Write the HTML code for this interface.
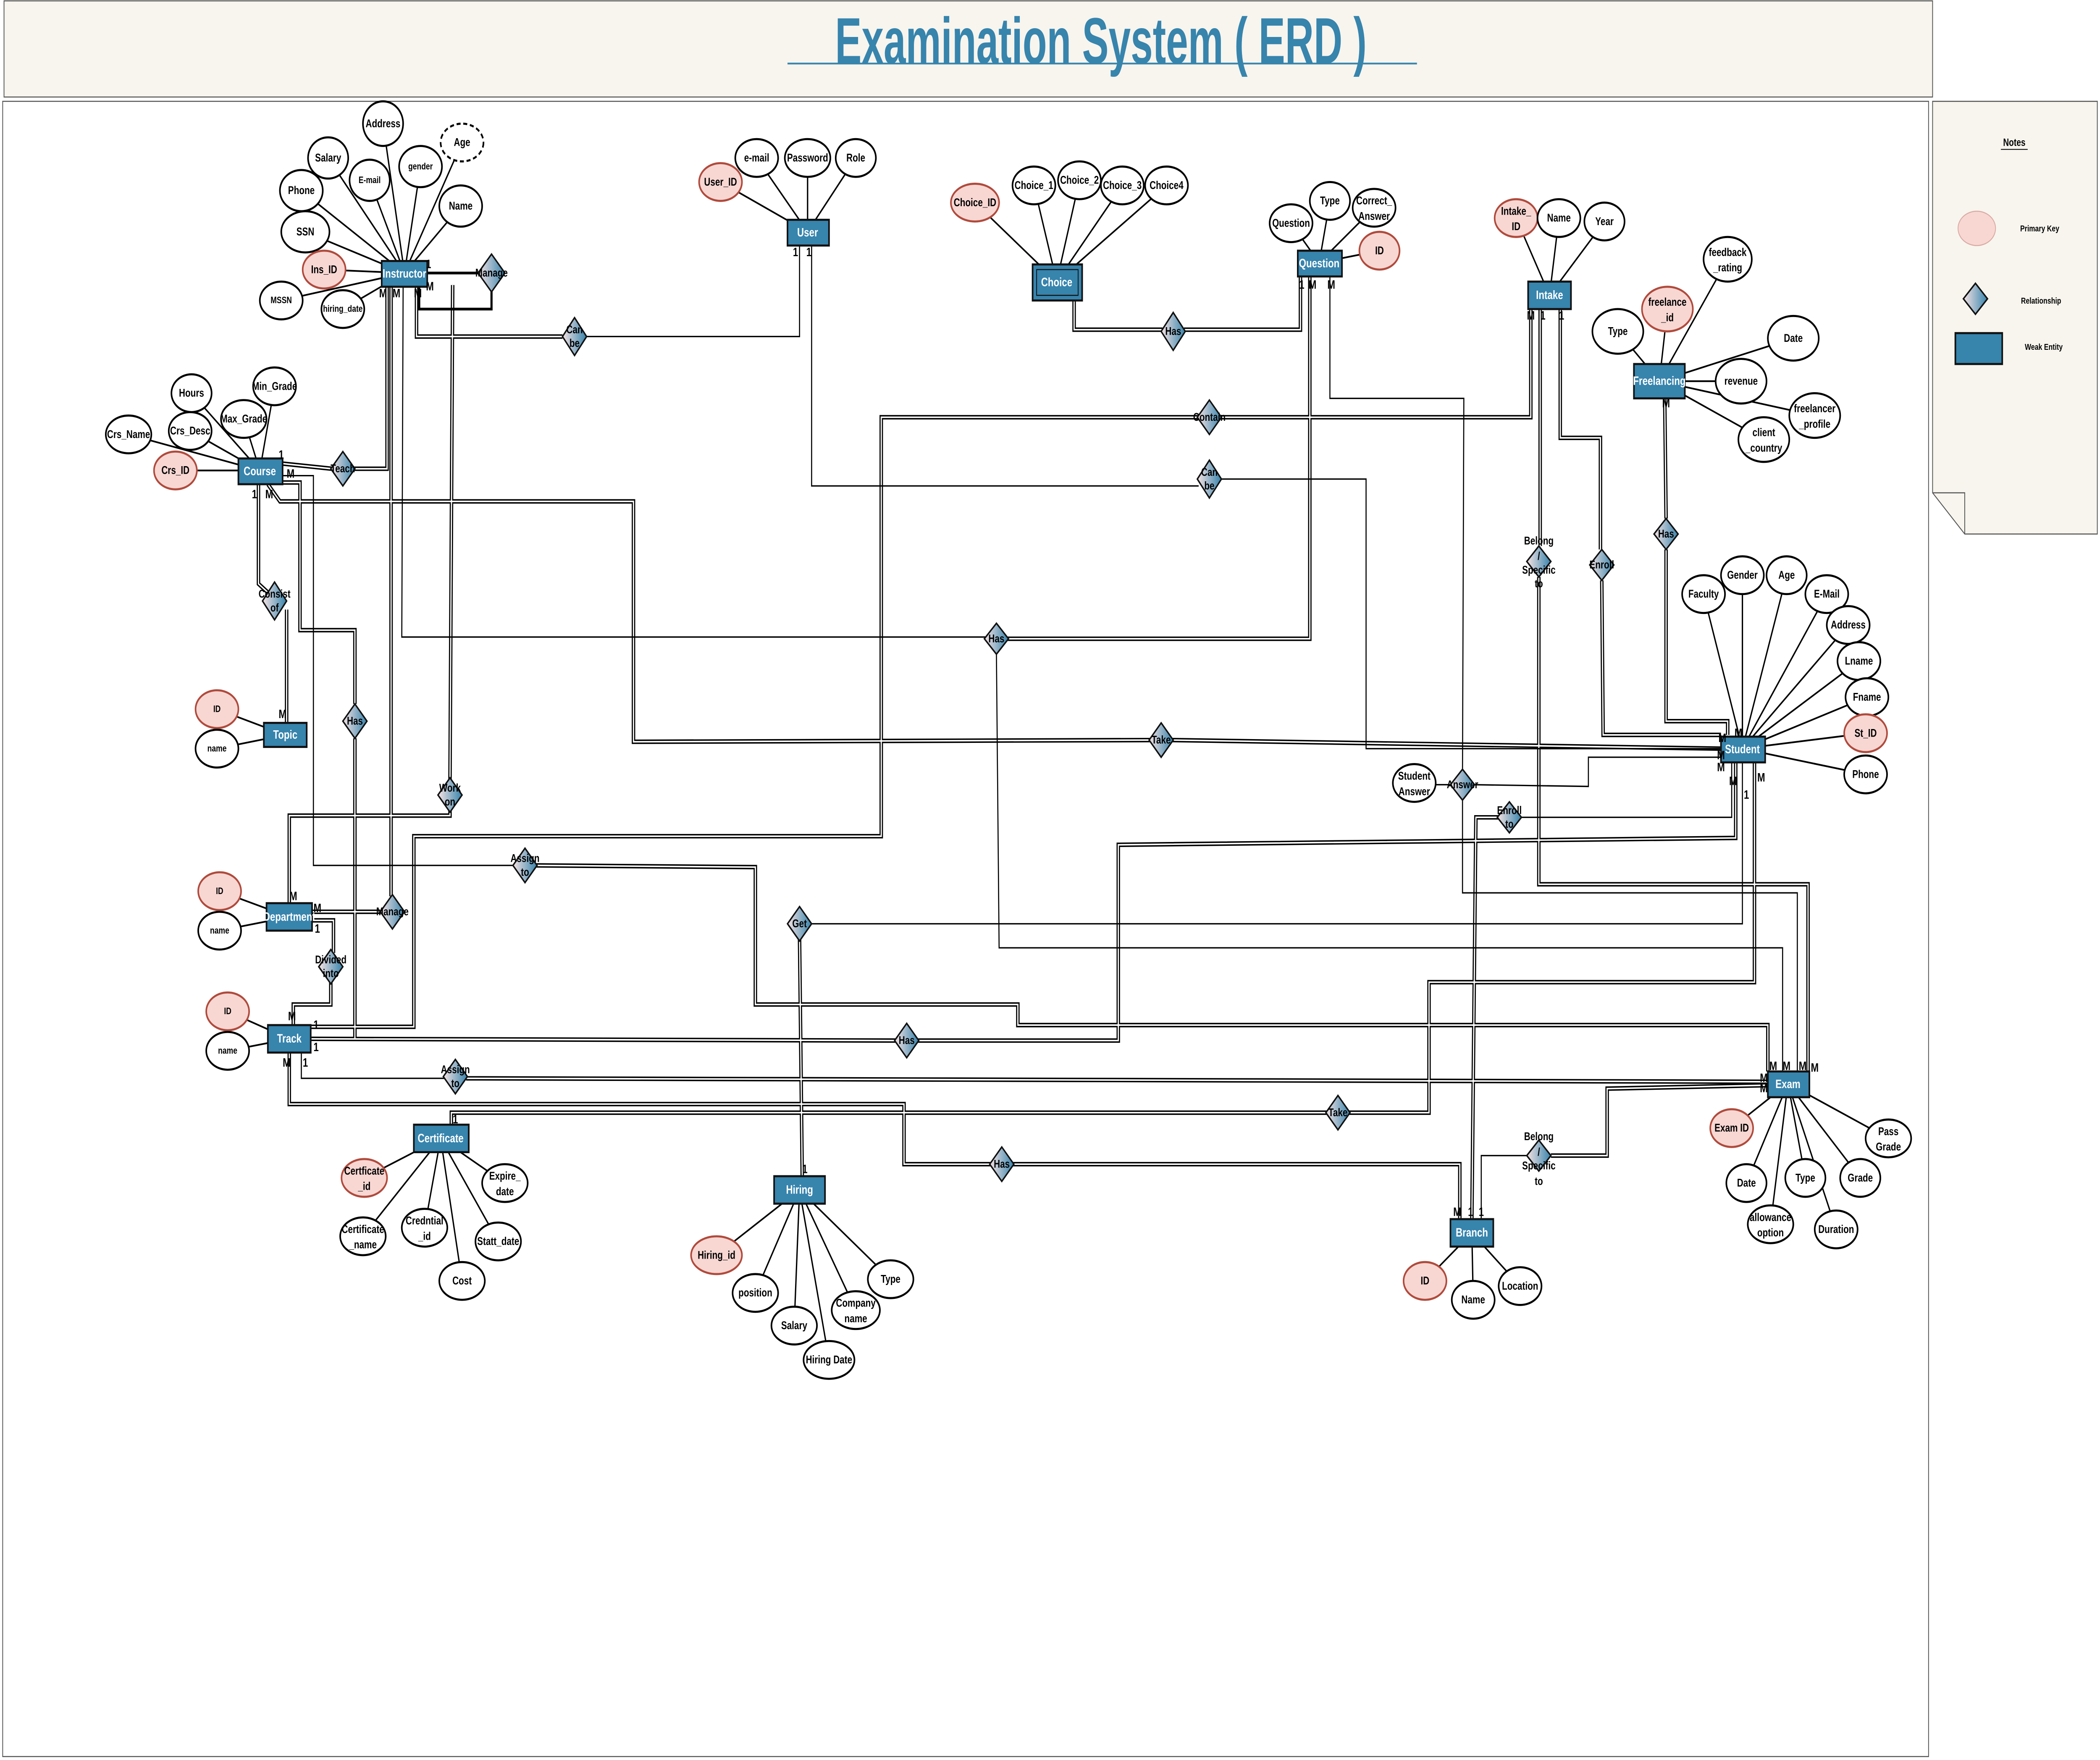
<!DOCTYPE html>
<html><head><meta charset="utf-8"><style>
html,body{margin:0;padding:0;background:#fff;overflow:hidden;width:100%;height:100%}
#wrap{position:fixed;left:0;top:0;width:100vw;height:100vh;overflow:hidden}
#wrap svg{position:absolute;left:0;top:0;width:100%;height:100%;display:block}
text{font-family:"Liberation Sans",sans-serif;font-weight:bold;text-anchor:middle;dominant-baseline:central}
.at{fill:#fff;stroke:#000;stroke-width:1.2}
.pk{fill:#f8d7d3;stroke:#b04a3c;stroke-width:1.2}
.en{fill:#3784ad;stroke:#111;stroke-width:1.2}
.et{fill:#fff;font-size:7px}
.t{font-size:6.5px;fill:#000}
.dm{fill:url(#g);stroke:#111;stroke-width:1}
.s{fill:none;stroke:#000;stroke-width:0.8}
.c{font-size:7px;fill:#000}
</style></head><body>
<div id="wrap">
<svg viewBox="0 0 1568 1025" preserveAspectRatio="none" xmlns="http://www.w3.org/2000/svg" xmlns:xlink="http://www.w3.org/1999/xlink">
<defs>
<linearGradient id="g" x1="0" y1="0" x2="1" y2="0"><stop offset="0" stop-color="#f6e3e3"/><stop offset="1" stop-color="#3784ad"/></linearGradient>
<g id="dbl" fill="none">
<path d="M311,167 V196 H420"/>
<path d="M802,173 V192 H868 M884,192 H971 V161"/>
<path d="M1143,180 V243 H911 M895,243 H658 V487 H309 V598 H232"/>
<path d="M338,166 L336,455 M336,472 V475 H216 V526"/>
<path d="M292,167 V522 M284,531 H233"/>
<path d="M752,372 H978 V161"/>
<path d="M211,270 L248,273 M264,273 H289 V167"/>
<path d="M193,282 V340 L200,345 M214,355 V421"/>
<path d="M400,504 L564,505 V585 H760 V597 H1320 V624"/>
<path d="M211,281 H224 V367 H265 V410 M265,430 V605"/>
<path d="M232,605 L669,606 M685,606 H835 V492 L1296,488 V444"/>
<path d="M200,282 L209,292 H473 V432 L859,431 M875,431 L1285,436"/>
<path d="M233,536 H249 V555 M247,572 V585 H219 V597"/>
<path d="M216,613 V643 H675 V678 H740 M756,678 H1090 V710"/>
<path d="M348,628 L1320,630"/>
<path d="M337,655 V648 H991 M1007,648 H1067 V572 H1310 V444"/>
<path d="M597,547 L599,685"/>
<path d="M1119,476 H1102 L1099,710"/>
<path d="M1150,180 V318 M1149,336 V515 H1350 V624"/>
<path d="M1165,180 V255 H1195 V320 M1196,338 L1197,428 H1285"/>
<path d="M1243,232 L1244,302 M1244,320 V420 H1290 V428"/>
<path d="M1158,673 H1200 V634 L1320,632"/>
</g>
</defs>
<rect x="3" y="0.5" width="1440" height="56" fill="#f7f5ee" stroke="#555" stroke-width="0.6"/>
<text x="822" y="24" style="font-size:38px;fill:#3784ad;font-weight:bold" transform="translate(822,0) scale(0.78,1) translate(-822,0)">Examination System  ( ERD )</text>
<line x1="588" y1="37" x2="1058" y2="37" stroke="#3784ad" stroke-width="1"/>
<rect x="2" y="59" width="1438" height="964" fill="#fff" stroke="#555" stroke-width="0.6"/>
<polygon points="1443,59 1566,59 1566,311 1467,311 1443,287" fill="#f7f5ee" stroke="#555" stroke-width="0.6"/>
<polyline points="1443,287 1467,287 1467,311" fill="none" stroke="#555" stroke-width="0.6"/>
<text x="1504" y="83" class="t" style="font-size:6px">Notes</text><line x1="1494" y1="87" x2="1514" y2="87" stroke="#000" stroke-width="0.5"/>
<ellipse cx="1476" cy="133" rx="14" ry="10" fill="#f8d7d3" stroke="#d9a9a3" stroke-width="0.6"/>
<text x="1523" y="133" class="t" style="font-size:5px">Primary Key</text>
<polygon points="1475,165 1484,174 1475,183 1466,174" class="dm"/>
<text x="1524" y="175" class="t" style="font-size:5px">Relationship</text>
<rect x="1460" y="194" width="35" height="18" class="en" stroke-width="2"/>
<text x="1526" y="202" class="t" style="font-size:5px">Weak Entity</text>

<use xlink:href="#dbl" stroke="#000" stroke-width="2.6"/>
<use xlink:href="#dbl" stroke="#fff" stroke-width="0.9"/>
<g class="s">
<path d="M319,159 H358" stroke-width="1.6"/>
<path d="M367,168 V180 H313 V167" stroke-width="1.6"/>
<path d="M438,196 H597 V143"/>
<path d="M606,143 V283 H895 M911,279 H1020 V436 H1285"/>
<path d="M301,167 L300,371 H736"/>
<path d="M744,381 L746,552 H1331 V624"/>
<path d="M211,277 H234 V504 H384"/>
<path d="M225,613 V628 H332"/>
<path d="M605,538 H1301 V444"/>
<path d="M1072,457 H1084 M1092,449 L1093,232 H993 V161 M1092,465 V520 H1342 V624 M1100,457 L1186,458 V441 H1285"/>
<path d="M1135,476 H1293 V444"/>
<path d="M1140,673 H1106 V710"/>
</g>

<g stroke="#000" stroke-width="1">
<path d="M286,72 L302,159 M345,83 L302,159 M245,92 L302,159 M314,97 L302,159 M276,105 L302,159 M225,111 L302,159 M344,120 L302,159 M228,135 L302,159 M242,157 L302,159 M210,175 L302,159 M256,180 L302,159"/>
<path d="M538,106 L603,135 M565,92 L603,135 M603,92 L603,135 M639,92 L603,135"/>
<path d="M728,118 L789,164 M772,108 L789,164 M806,105 L789,164 M838,108 L789,164 M871,108 L789,164"/>
<path d="M964,130 L985,153 M993,117 L985,153 M1026,121 L985,153 M1030,146 L985,153"/>
<path d="M1132,127 L1157,172 M1164,127 L1157,172 M1198,129 L1157,172"/>
<path d="M1245,180 L1239,222 M1290,151 L1239,222 M1208,193 L1239,222 M1339,197 L1239,222 M1300,222 L1239,222 M1355,242 L1239,222 M1317,256 L1239,222"/>
<path d="M143,229 L194,274 M205,225 L194,274 M142,251 L194,274 M182,244 L194,274 M96,253 L194,274 M131,274 L194,274"/>
<path d="M162,413 L213,428 M162,436 L213,428"/>
<path d="M1272,346 L1301,436 M1301,335 L1301,436 M1334,335 L1301,436 M1364,346 L1301,436 M1380,364 L1301,436 M1388,385 L1301,436 M1394,406 L1301,436 M1393,427 L1301,436 M1393,451 L1301,436"/>
<path d="M164,519 L216,534 M164,542 L216,534 M170,589 L216,605 M170,612 L216,605"/>
<path d="M1293,657 L1335,631 M1410,663 L1335,631 M1304,689 L1335,631 M1348,686 L1335,631 M1389,686 L1335,631 M1322,713 L1335,631 M1371,716 L1335,631"/>
<path d="M272,686 L329,663 M377,689 L329,663 M317,715 L329,663 M271,720 L329,663 M372,723 L329,663 M345,746 L329,663"/>
<path d="M535,731 L597,693 M564,753 L597,693 M665,745 L597,693 M639,763 L597,693 M593,772 L597,693 M619,792 L597,693"/>
<path d="M1064,746 L1099,718 M1100,757 L1099,718 M1135,749 L1099,718"/>
</g>

<g>
<ellipse cx="286" cy="72" rx="15" ry="13" class="at"/><text x="286" y="72" class="t">Address</text>
<ellipse cx="345" cy="83" rx="16" ry="11" class="at" stroke-dasharray="3,2"/><text x="345" y="83" class="t">Age</text>
<ellipse cx="245" cy="92" rx="15" ry="12" class="at"/><text x="245" y="92" class="t">Salary</text>
<ellipse cx="314" cy="97" rx="16" ry="12" class="at"/><text x="314" y="97" class="t" style="font-size:5.5px">gender</text>
<ellipse cx="276" cy="105" rx="15" ry="12" class="at"/><text x="276" y="105" class="t" style="font-size:5.5px">E-mail</text>
<ellipse cx="225" cy="111" rx="16" ry="12" class="at"/><text x="225" y="111" class="t">Phone</text>
<ellipse cx="344" cy="120" rx="16" ry="12" class="at"/><text x="344" y="120" class="t">Name</text>
<ellipse cx="228" cy="135" rx="18" ry="12" class="at"/><text x="228" y="135" class="t">SSN</text>
<ellipse cx="242" cy="157" rx="16" ry="11" class="pk"/><text x="242" y="157" class="t">Ins_ID</text>
<ellipse cx="210" cy="175" rx="16" ry="11" class="at" stroke-width="0.8"/><text x="210" y="175" class="t" style="font-size:5.5px">MSSN</text>
<ellipse cx="256" cy="180" rx="16" ry="11" class="at" stroke-width="0.8"/><text x="256" y="180" class="t" style="font-size:5.5px">hiring_date</text>

<ellipse cx="538" cy="106" rx="16" ry="11" class="pk"/><text x="538" y="106" class="t">User_ID</text>
<ellipse cx="565" cy="92" rx="16" ry="11" class="at"/><text x="565" y="92" class="t">e-mail</text>
<ellipse cx="603" cy="92" rx="17" ry="11" class="at"/><text x="603" y="92" class="t">Password</text>
<ellipse cx="639" cy="92" rx="15" ry="11" class="at"/><text x="639" y="92" class="t">Role</text>

<ellipse cx="728" cy="118" rx="18" ry="11" class="pk"/><text x="728" y="118" class="t">Choice_ID</text>
<ellipse cx="772" cy="108" rx="16" ry="11" class="at"/><text x="772" y="108" class="t">Choice_1</text>
<ellipse cx="806" cy="105" rx="16" ry="11" class="at"/><text x="806" y="105" class="t">Choice_2</text>
<ellipse cx="838" cy="108" rx="16" ry="11" class="at"/><text x="838" y="108" class="t">Choice_3</text>
<ellipse cx="871" cy="108" rx="16" ry="11" class="at"/><text x="871" y="108" class="t">Choice4</text>

<ellipse cx="964" cy="130" rx="16" ry="11" class="at"/><text x="964" y="130" class="t">Question</text>
<ellipse cx="993" cy="117" rx="15" ry="11" class="at"/><text x="993" y="117" class="t">Type</text>
<ellipse cx="1026" cy="121" rx="16" ry="11" class="at"/><text x="1026" y="117" class="t">Correct_</text><text x="1026" y="126" class="t">Answer</text>
<ellipse cx="1030" cy="146" rx="15" ry="11" class="pk"/><text x="1030" y="146" class="t">ID</text>

<ellipse cx="1132" cy="127" rx="16" ry="11" class="pk"/><text x="1132" y="123" class="t">Intake_</text><text x="1132" y="132" class="t">ID</text>
<ellipse cx="1164" cy="127" rx="16" ry="11" class="at"/><text x="1164" y="127" class="t">Name</text>
<ellipse cx="1198" cy="129" rx="15" ry="11" class="at"/><text x="1198" y="129" class="t">Year</text>

<ellipse cx="1245" cy="180" rx="19" ry="13" class="pk"/><text x="1245" y="176" class="t">freelance</text><text x="1245" y="185" class="t">_id</text>
<ellipse cx="1290" cy="151" rx="18" ry="13" class="at"/><text x="1290" y="147" class="t">feedback</text><text x="1290" y="156" class="t">_rating</text>
<ellipse cx="1208" cy="193" rx="19" ry="13" class="at"/><text x="1208" y="193" class="t">Type</text>
<ellipse cx="1339" cy="197" rx="19" ry="13" class="at"/><text x="1339" y="197" class="t">Date</text>
<ellipse cx="1300" cy="222" rx="19" ry="13" class="at"/><text x="1300" y="222" class="t">revenue</text>
<ellipse cx="1355" cy="242" rx="19" ry="13" class="at"/><text x="1355" y="238" class="t">freelancer</text><text x="1355" y="247" class="t">_profile</text>
<ellipse cx="1317" cy="256" rx="19" ry="13" class="at"/><text x="1317" y="252" class="t">client</text><text x="1317" y="261" class="t">_country</text>

<ellipse cx="143" cy="229" rx="15" ry="11" class="at"/><text x="143" y="229" class="t">Hours</text>
<ellipse cx="205" cy="225" rx="16" ry="11" class="at"/><text x="205" y="225" class="t">Min_Grade</text>
<ellipse cx="142" cy="251" rx="16" ry="11" class="at"/><text x="142" y="251" class="t">Crs_Desc</text>
<ellipse cx="182" cy="244" rx="17" ry="11" class="at"/><text x="182" y="244" class="t">Max_Grade</text>
<ellipse cx="96" cy="253" rx="17" ry="11" class="at"/><text x="96" y="253" class="t">Crs_Name</text>
<ellipse cx="131" cy="274" rx="16" ry="11" class="pk"/><text x="131" y="274" class="t">Crs_ID</text>

<ellipse cx="162" cy="413" rx="16" ry="11" class="pk"/><text x="162" y="413" class="t" style="font-size:5.5px">ID</text>
<ellipse cx="162" cy="436" rx="16" ry="11" class="at"/><text x="162" y="436" class="t" style="font-size:5.5px">name</text>

<ellipse cx="1272" cy="346" rx="16" ry="11" class="at"/><text x="1272" y="346" class="t">Faculty</text>
<ellipse cx="1301" cy="335" rx="16" ry="11" class="at"/><text x="1301" y="335" class="t">Gender</text>
<ellipse cx="1334" cy="335" rx="15" ry="11" class="at"/><text x="1334" y="335" class="t">Age</text>
<ellipse cx="1364" cy="346" rx="16" ry="11" class="at"/><text x="1364" y="346" class="t">E-Mail</text>
<ellipse cx="1380" cy="364" rx="16" ry="11" class="at"/><text x="1380" y="364" class="t">Address</text>
<ellipse cx="1388" cy="385" rx="16" ry="11" class="at"/><text x="1388" y="385" class="t">Lname</text>
<ellipse cx="1394" cy="406" rx="16" ry="11" class="at"/><text x="1394" y="406" class="t">Fname</text>
<ellipse cx="1393" cy="427" rx="16" ry="11" class="pk"/><text x="1393" y="427" class="t">St_ID</text>
<ellipse cx="1393" cy="451" rx="16" ry="11" class="at" stroke-width="2.4"/><text x="1393" y="451" class="t">Phone</text>
<ellipse cx="1056" cy="456" rx="16" ry="11" class="at"/><text x="1056" y="452" class="t">Student</text><text x="1056" y="461" class="t">Answer</text>

<ellipse cx="164" cy="519" rx="16" ry="11" class="pk"/><text x="164" y="519" class="t" style="font-size:5.5px">ID</text>
<ellipse cx="164" cy="542" rx="16" ry="11" class="at"/><text x="164" y="542" class="t" style="font-size:5.5px">name</text>
<ellipse cx="170" cy="589" rx="16" ry="11" class="pk"/><text x="170" y="589" class="t" style="font-size:5.5px">ID</text>
<ellipse cx="170" cy="612" rx="16" ry="11" class="at"/><text x="170" y="612" class="t" style="font-size:5.5px">name</text>

<ellipse cx="1293" cy="657" rx="16" ry="11" class="pk"/><text x="1293" y="657" class="t">Exam ID</text>
<ellipse cx="1410" cy="663" rx="17" ry="11" class="at"/><text x="1410" y="659" class="t">Pass</text><text x="1410" y="668" class="t">Grade</text>
<ellipse cx="1304" cy="689" rx="15" ry="11" class="at"/><text x="1304" y="689" class="t">Date</text>
<ellipse cx="1348" cy="686" rx="15" ry="11" class="at"/><text x="1348" y="686" class="t">Type</text>
<ellipse cx="1389" cy="686" rx="15" ry="11" class="at"/><text x="1389" y="686" class="t">Grade</text>
<ellipse cx="1322" cy="713" rx="17" ry="11" class="at"/><text x="1322" y="709" class="t">allowance</text><text x="1322" y="718" class="t">option</text>
<ellipse cx="1371" cy="716" rx="16" ry="11" class="at"/><text x="1371" y="716" class="t">Duration</text>

<ellipse cx="272" cy="686" rx="17" ry="11" class="pk"/><text x="272" y="682" class="t">Certficate</text><text x="272" y="691" class="t">_id</text>
<ellipse cx="377" cy="689" rx="17" ry="11" class="at"/><text x="377" y="685" class="t">Expire_</text><text x="377" y="694" class="t">date</text>
<ellipse cx="317" cy="715" rx="17" ry="11" class="at"/><text x="317" y="711" class="t">Credntial</text><text x="317" y="720" class="t">_id</text>
<ellipse cx="271" cy="720" rx="17" ry="11" class="at"/><text x="271" y="716" class="t">Certificate</text><text x="271" y="725" class="t">_name</text>
<ellipse cx="372" cy="723" rx="17" ry="11" class="at"/><text x="372" y="723" class="t">Statt_date</text>
<ellipse cx="345" cy="746" rx="17" ry="11" class="at"/><text x="345" y="746" class="t">Cost</text>

<ellipse cx="535" cy="731" rx="19" ry="11" class="pk"/><text x="535" y="731" class="t">Hiring_id</text>
<ellipse cx="564" cy="753" rx="17" ry="11" class="at"/><text x="564" y="753" class="t">position</text>
<ellipse cx="665" cy="745" rx="17" ry="11" class="at"/><text x="665" y="745" class="t">Type</text>
<ellipse cx="639" cy="763" rx="18" ry="11" class="at"/><text x="639" y="759" class="t">Company</text><text x="639" y="768" class="t">name</text>
<ellipse cx="593" cy="772" rx="17" ry="11" class="at"/><text x="593" y="772" class="t">Salary</text>
<ellipse cx="619" cy="792" rx="19" ry="11" class="at"/><text x="619" y="792" class="t">Hiring Date</text>

<ellipse cx="1064" cy="746" rx="16" ry="11" class="pk"/><text x="1064" y="746" class="t">ID</text>
<ellipse cx="1100" cy="757" rx="16" ry="11" class="at"/><text x="1100" y="757" class="t">Name</text>
<ellipse cx="1135" cy="749" rx="16" ry="11" class="at"/><text x="1135" y="749" class="t">Location</text>
</g>

<g>
<rect x="285" y="152" width="34" height="15" class="en"/><text x="302" y="159.5" class="et">Instructor</text>
<rect x="588" y="128" width="31" height="15" class="en"/><text x="603" y="135.5" class="et">User</text>
<rect x="771" y="154" width="37" height="21" class="en" stroke-width="2.4"/><rect x="774" y="157" width="31" height="15" fill="none" stroke="#111" stroke-width="0.6"/><text x="789" y="164.5" class="et">Choice</text>
<rect x="969" y="146" width="33" height="15" class="en"/><text x="985" y="153.5" class="et">Question</text>
<rect x="1141" y="164" width="32" height="16" class="en"/><text x="1157" y="172" class="et">Intake</text>
<rect x="1220" y="212" width="38" height="20" class="en"/><text x="1239" y="222" class="et">Freelancing</text>
<rect x="178" y="267" width="33" height="15" class="en"/><text x="194" y="274.5" class="et">Course</text>
<rect x="197" y="421" width="32" height="14" class="en"/><text x="213" y="428" class="et">Topic</text>
<rect x="1285" y="429" width="33" height="15" class="en"/><text x="1301" y="436.5" class="et">Student</text>
<rect x="199" y="526" width="34" height="16" class="en" stroke="#1a6fb0"/><text x="216" y="534" class="et">Department</text>
<rect x="200" y="597" width="32" height="16" class="en" stroke="#1a6fb0"/><text x="216" y="605" class="et">Track</text>
<rect x="1320" y="624" width="31" height="15" class="en"/><text x="1335" y="631.5" class="et">Exam</text>
<rect x="309" y="655" width="41" height="16" class="en" stroke="#3784ad"/><text x="329" y="663" class="et">Certificate</text>
<rect x="578" y="685" width="38" height="16" class="en" stroke-width="1.8"/><text x="597" y="693" class="et">Hiring</text>
<rect x="1083" y="710" width="32" height="16" class="en"/><text x="1099" y="718" class="et">Branch</text>
</g>

<g>
<polygon points="367,148 377,159 367,170 357,159" class="dm"/><text x="367" y="159" class="t">Manage</text>
<polygon points="429,185 438,196 429,207 420,196" class="dm"/><text x="429" y="192" class="t">Can</text><text x="429" y="200" class="t">be</text>
<polygon points="876,182 885,193 876,204 867,193" class="dm"/><text x="876" y="193" class="t">Has</text>
<polygon points="903,233 912,243 903,253 894,243" class="dm"/><text x="903" y="243" class="t">Contain</text>
<polygon points="903,268 912,279 903,290 894,279" class="dm"/><text x="903" y="275" class="t">Can</text><text x="903" y="283" class="t">be</text>
<polygon points="256,263 265,273 256,283 247,273" class="dm"/><text x="256" y="273" class="t">Teach</text>
<polygon points="205,339 214,350 205,361 196,350" class="dm"/><text x="205" y="346" class="t">Consist</text><text x="205" y="354" class="t">of</text>
<polygon points="265,410 274,420 265,430 256,420" class="dm"/><text x="265" y="420" class="t">Has</text>
<polygon points="744,363 753,372 744,381 735,372" class="dm"/><text x="744" y="372" class="t">Has</text>
<polygon points="867,421 876,431 867,441 858,431" class="dm"/><text x="867" y="431" class="t">Take</text>
<polygon points="336,453 345,463 336,473 327,463" class="dm"/><text x="336" y="459" class="t">Work</text><text x="336" y="467" class="t">on</text>
<polygon points="392,494 401,504 392,514 383,504" class="dm"/><text x="392" y="500" class="t">Assign</text><text x="392" y="508" class="t">to</text>
<polygon points="293,521 302,531 293,541 284,531" class="dm"/><text x="293" y="531" class="t">Manage</text>
<polygon points="247,553 256,563 247,573 238,563" class="dm"/><text x="247" y="559" class="t">Divided</text><text x="247" y="567" class="t">into</text>
<polygon points="597,528 606,538 597,548 588,538" class="dm"/><text x="597" y="538" class="t">Get</text>
<polygon points="677,596 686,606 677,616 668,606" class="dm"/><text x="677" y="606" class="t">Has</text>
<polygon points="340,617 349,627 340,637 331,627" class="dm"/><text x="340" y="623" class="t">Assign</text><text x="340" y="631" class="t">to</text>
<polygon points="999,638 1008,648 999,658 990,648" class="dm"/><text x="999" y="648" class="t">Take</text>
<polygon points="748,668 757,678 748,688 739,678" class="dm"/><text x="748" y="678" class="t">Has</text>
<polygon points="1149,318 1158,327 1149,336 1140,327" class="dm"/><text x="1149" y="315" class="t">Belong</text><text x="1149" y="324" class="t">/</text><text x="1149" y="332" class="t">Specific</text><text x="1149" y="340" class="t">to</text>
<polygon points="1196,320 1205,329 1196,338 1187,329" class="dm"/><text x="1196" y="329" class="t">Enroll</text>
<polygon points="1244,302 1253,311 1244,320 1235,311" class="dm"/><text x="1244" y="311" class="t">Has</text>
<polygon points="1092,448 1101,457 1092,466 1083,457" class="dm"/><text x="1092" y="457" class="t">Answer</text>
<polygon points="1127,467 1136,476 1127,485 1118,476" class="dm"/><text x="1127" y="472" class="t">Enroll</text><text x="1127" y="480" class="t">to</text>
<polygon points="1149,664 1158,673 1149,682 1140,673" class="dm"/><text x="1149" y="662" class="t">Belong</text><text x="1149" y="671" class="t">/</text><text x="1149" y="679" class="t">Specific</text><text x="1149" y="688" class="t">to</text>
</g>

<g class="c">
<text x="320" y="154">1</text><text x="321" y="167">M</text><text x="312" y="171">M</text><text x="296" y="171">M</text><text x="286" y="171">M</text>
<text x="594" y="147">1</text><text x="604" y="147">1</text>
<text x="972" y="166">1</text><text x="980" y="166">M</text><text x="994" y="166">M</text>
<text x="1143" y="184">M</text><text x="1152" y="184">1</text><text x="1166" y="184">1</text>
<text x="1244" y="235">M</text>
<text x="210" y="265">1</text><text x="217" y="276">M</text><text x="190" y="288">1</text><text x="201" y="288">M</text>
<text x="211" y="416">M</text>
<text x="1286" y="430">M</text><text x="1285" y="440">M</text><text x="1285" y="447">M</text><text x="1294" y="455">M</text><text x="1304" y="463">1</text><text x="1315" y="453">M</text><text x="1298" y="427">M</text>
<text x="219" y="522">M</text><text x="237" y="529">M</text><text x="237" y="541">1</text>
<text x="218" y="592">M</text><text x="236" y="597">1</text><text x="236" y="610">1</text><text x="214" y="619">M</text><text x="228" y="619">1</text>
<text x="1317" y="628">M</text><text x="1324" y="621">M</text><text x="1334" y="621">M</text><text x="1346" y="621">M</text><text x="1355" y="622">M</text><text x="1317" y="634">M</text>
<text x="340" y="652">1</text><text x="601" y="681">1</text>
<text x="1088" y="706">M</text><text x="1098" y="706">1</text><text x="1106" y="706">1</text>
</g>
</svg>
</div>
</body></html>
